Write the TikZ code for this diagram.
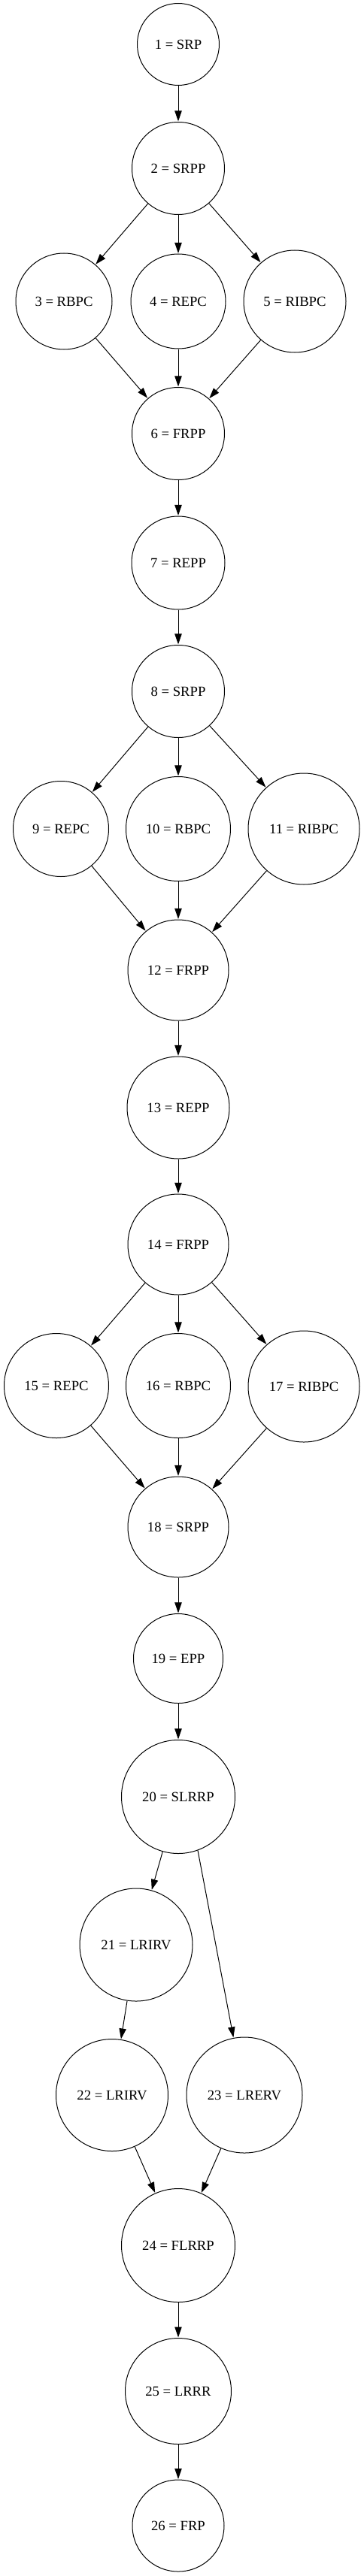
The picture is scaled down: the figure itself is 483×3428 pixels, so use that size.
\documentclass[tikz,border=0pt]{standalone}
\usepackage{fontspec}
\setmainfont{Liberation Serif}
\usetikzlibrary{arrows.meta}
\newcommand{\pxu}{0.75pt}
\newcommand{\statenode}[5]{\node[statebox, minimum size=#4*\pxu] (#1) at (#2,#3) {#5};}
\newcommand{\link}[2]{\draw[edge] (#1) -- (#2);}
\tikzset{
  statebox/.style={circle, draw=black, line width=0.75pt, inner sep=0pt, font=\fontsize{14pt}{17pt}\selectfont},
  edge/.style={line width=0.75pt, -{Triangle[length=10.5pt,width=7pt]}, shorten >=0.4pt}
}

\begin{document}
\begin{tikzpicture}[x=\pxu, y=-\pxu]
    \useasboundingbox (0,0) rectangle (483,3428);

    \statenode{n1}{237}{59}{109}{1 = SRP}
    \statenode{n2}{237}{224}{123}{2 = SRPP}
    \statenode{n3}{85}{401}{128}{3 = RBPC}
    \statenode{n4}{237}{401}{126}{4 = REPC}
    \statenode{n5}{392}{401}{136}{5 = RIBPC}
    \statenode{n6}{237}{577}{123}{6 = FRPP}
    \statenode{n7}{237}{749}{124}{7 = REPP}
    \statenode{n8}{237}{920}{123}{8 = SRPP}
    \statenode{n9}{81}{1103}{127}{9 = REPC}
    \statenode{n10}{237}{1103}{139}{10 = RBPC}
    \statenode{n11}{404}{1103}{148}{11 = RIBPC}
    \statenode{n12}{237}{1291}{134}{12 = FRPP}
    \statenode{n13}{237}{1474}{136}{13 = REPP}
    \statenode{n14}{237}{1656}{134}{14 = FRPP}
    \statenode{n15}{75}{1844}{139}{15 = REPC}
    \statenode{n16}{237}{1844}{139}{16 = RBPC}
    \statenode{n17}{404}{1845}{148}{17 = RIBPC}
    \statenode{n18}{237}{2032}{134}{18 = SRPP}
    \statenode{n19}{237}{2207}{119}{19 = EPP}
    \statenode{n20}{237}{2391}{151}{20 = SLRRP}
    \statenode{n21}{181}{2588}{150}{21 = LRIRV}
    \statenode{n22}{149}{2788}{149}{22 = LRIRV}
    \statenode{n23}{325}{2788}{154}{23 = LRERV}
    \statenode{n24}{237}{2988}{151}{24 = FLRRP}
    \statenode{n25}{237}{3182}{141}{25 = LRRR}
    \statenode{n26}{237}{3361}{122}{26 = FRP}

    \link{n1}{n2}
    \link{n2}{n3}
    \link{n2}{n4}
    \link{n2}{n5}
    \link{n3}{n6}
    \link{n4}{n6}
    \link{n5}{n6}
    \link{n6}{n7}
    \link{n7}{n8}
    \link{n8}{n9}
    \link{n8}{n10}
    \link{n8}{n11}
    \link{n9}{n12}
    \link{n10}{n12}
    \link{n11}{n12}
    \link{n12}{n13}
    \link{n13}{n14}
    \link{n14}{n15}
    \link{n14}{n16}
    \link{n14}{n17}
    \link{n15}{n18}
    \link{n16}{n18}
    \link{n17}{n18}
    \link{n18}{n19}
    \link{n19}{n20}
    \link{n20}{n21}
    \link{n20.-70}{n23}
    \link{n21}{n22}
    \link{n22}{n24}
    \link{n23}{n24}
    \link{n24}{n25}
    \link{n25}{n26}

    \end{tikzpicture}
\end{document}
